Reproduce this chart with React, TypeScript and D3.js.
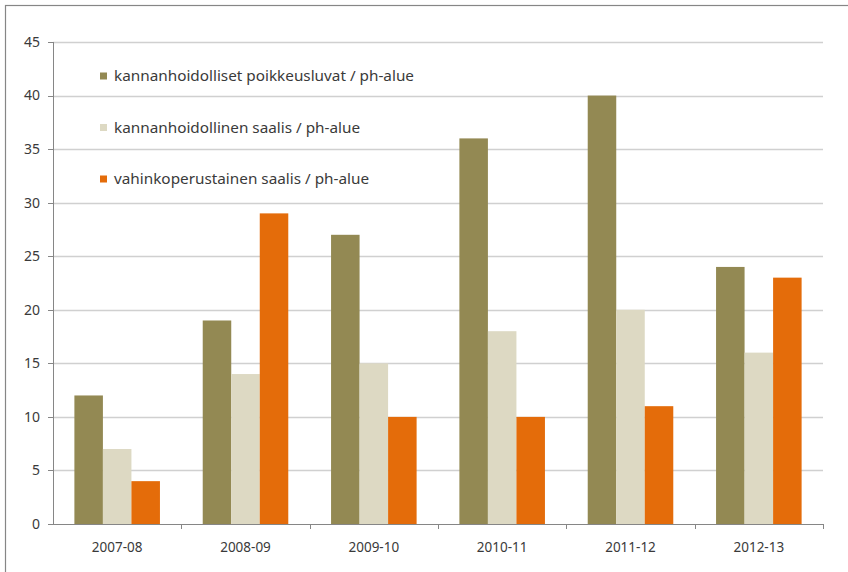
import React from 'react';
import * as d3 from 'd3';

const categories = ['2007-08', '2008-09', '2009-10', '2010-11', '2011-12', '2012-13'];
const seriesNames = [
  'kannanhoidolliset poikkeusluvat / ph-alue',
  'kannanhoidollinen saalis / ph-alue',
  'vahinkoperustainen saalis / ph-alue',
];
const poikkeusluvat = [12, 19, 27, 36, 40, 24];
const kannanSaalis = [7, 14, 15, 18, 20, 16];
const vahinkoSaalis = [4, 29, 10, 10, 11, 23];
const yTicks = [0, 5, 10, 15, 20, 25, 30, 35, 40, 45];
const colors = ['#938953', '#DDD9C3', '#E46C0A'];

const W = 848;
const H = 572;
const left = 53;
const right = 823;
const top = 42;
const bottom = 524;
const font = "'Noto Sans', 'Open Sans', sans-serif";

export default function App() {
  const series = [poikkeusluvat, kannanSaalis, vahinkoSaalis];

  const x = d3.scaleBand().domain(categories).range([left, right]).paddingInner(0).paddingOuter(0);
  const y = d3.scaleLinear().domain([0, 45]).range([bottom, top]);

  // excel style: gap width 150% -> bar = band / 4.5
  const barW = x.bandwidth() / 4.5;
  const gap = (x.bandwidth() - 3 * barW) / 2;

  return (
    <svg width={W} height={H} style={{position: 'absolute', left: 0, top: 0}}>
      <rect x={0} y={0} width={W} height={H} fill="#fff" />
      <rect x={5.5} y={5.5} width={W + 10} height={H + 10} fill="none" stroke="#868686" strokeWidth={1.2} />

      {yTicks.map(t => (
        <g key={t}>
          {t > 0 && (
            <line x1={left} x2={right} y1={Math.round(y(t)) + 0.5} y2={Math.round(y(t)) + 0.5} stroke="#D0D0D0" strokeWidth={1.5} />
          )}
          <line x1={left - 5} x2={left} y1={Math.round(y(t)) + 0.5} y2={Math.round(y(t)) + 0.5} stroke="#868686" />
          <text x={40} y={y(t)} dy="0.35em" textAnchor="end" fontFamily={font} fontSize={14} fill="#3a3a3a">
            {t}
          </text>
        </g>
      ))}

      {series.map((vals, si) =>
        vals.map((v, ci) => (
          <rect
            key={si + '-' + ci}
            x={(x(categories[ci]) as number) + gap + si * barW}
            y={y(v)}
            width={barW}
            height={y(0) - y(v)}
            fill={colors[si]}
          />
        ))
      )}

      <line x1={left + 0.5} x2={left + 0.5} y1={top} y2={bottom} stroke="#868686" />
      <line x1={left} x2={right} y1={bottom + 0.5} y2={bottom + 0.5} stroke="#868686" />
      {categories.map((c, i) => (
        <line key={'t' + i} x1={Math.round((x(c) as number) + x.bandwidth()) + 0.5} x2={Math.round((x(c) as number) + x.bandwidth()) + 0.5} y1={bottom} y2={bottom + 5} stroke="#868686" />
      ))}
      {categories.map(c => (
        <text key={c} x={(x(c) as number) + x.bandwidth() / 2} y={547} dy="0.35em" textAnchor="middle" fontFamily={font} fontSize={13.5} fill="#3a3a3a">
          {c}
        </text>
      ))}

      {seriesNames.map((n, i) => (
        <g key={n} transform={`translate(100, ${76 + i * 51.5})`}>
          <rect x={0} y={-3.5} width={7} height={7} fill={colors[i]} />
          <text x={14} y={0} dy="0.35em" fontFamily={font} fontSize={15.3} fill="#3a3a3a">
            {n}
          </text>
        </g>
      ))}
    </svg>
  );
}
